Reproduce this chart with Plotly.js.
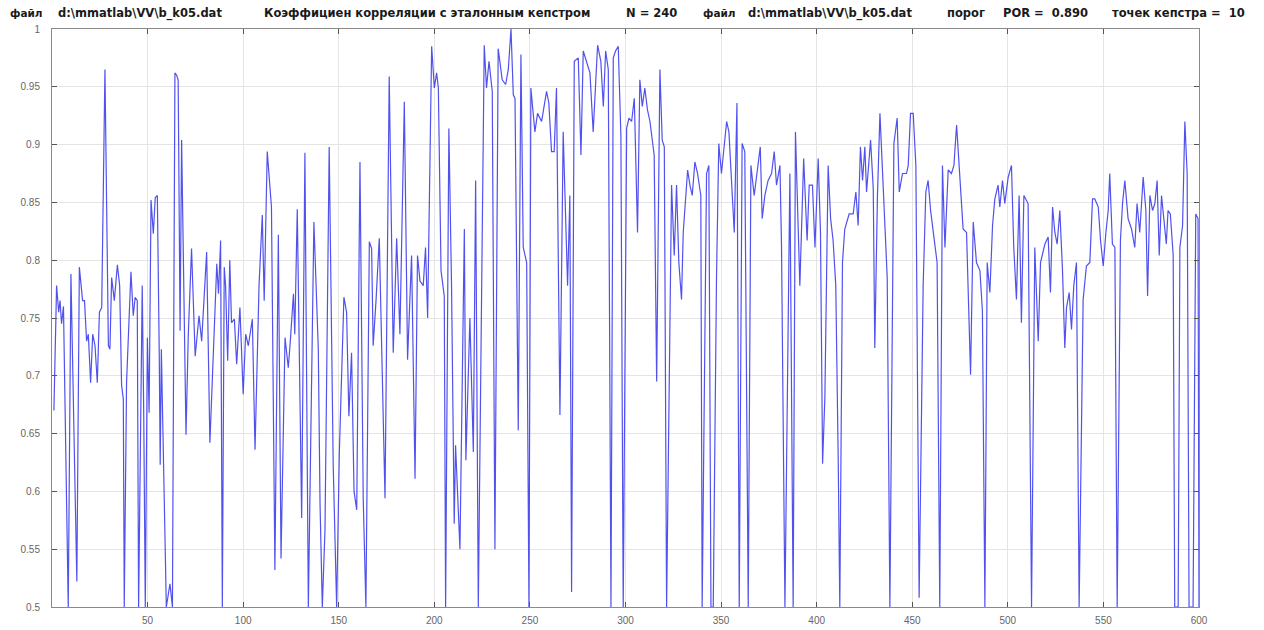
<!DOCTYPE html>
<html>
<head>
<meta charset="utf-8">
<script src="https://cdn.plot.ly/plotly-3.0.1.min.js"></script>
<style>
  html, body { margin: 0; padding: 0; background: #ffffff; }
  #chart { width: 1264px; height: 630px; }
</style>
</head>
<body>
<div id="chart"></div>
<script>
// Sample index of each correlation value
const sampleIndex = [
  1, 2.4, 3.5, 4.2, 5, 6, 8.5, 9.9, 13, 14.3, 16, 17, 18.1, 19, 20.2, 21.3, 22.5, 23.7, 24.8, 26,
  27.7, 29.5, 30.3, 31.2, 31.9, 32.6, 34.2, 35.4, 36.4, 37.3, 37.8, 39, 41.3, 42.5, 43.5, 44.6, 45.3, 47.2, 48, 48.8,
  49.9, 50.8, 51.8, 53, 54, 55.1, 56.1, 56.6, 57.2, 59.4, 59.8, 61.7, 63, 64.3, 65.2, 66, 67, 67.8, 70.1, 71.3,
  73, 74.9, 76.9, 78.3, 80.9, 82.6, 85.3, 86.2, 87.1, 88.2, 89.1, 90.1, 90.8, 91.9, 93, 93.9, 95.4, 96.6, 98.3, 100,
  101.3, 102.7, 104.8, 106.2, 108.3, 110, 111, 112.6, 114.8, 116.6, 118.4, 119.8, 121.9, 123.6, 124.5, 126.3, 127, 128.3, 130.6, 132.3,
  134.1, 137, 139.3, 140.2, 141.4, 142.8, 145, 146.3, 147.1, 148.9, 150.3, 152.7, 154.1, 155.3, 156.7, 158, 159.4, 161.1, 162.8, 164.2,
  166, 167.2, 168, 169.5, 171.2, 174.2, 176.4, 178.5, 180.3, 182, 184.3, 186, 188.1, 189.9, 191.2, 192.5, 194.2, 195.4, 196.5, 198.6,
  200, 201.2, 202.1, 203.5, 205.2, 205.9, 207.6, 209, 210.4, 211.1, 213.4, 215.7, 216.5, 218.6, 220.4, 221.6, 223, 226.1, 227.3, 228.6,
  230.3, 231.7, 233.4, 235.5, 237.3, 238.7, 240.1, 241.3, 242.2, 243.9, 245.3, 246.5, 248.3, 249.5, 250.5, 252.6, 254, 256.1, 258.7, 259.9,
  261.3, 262.7, 263.9, 265.7, 267.4, 269.7, 270.9, 271.8, 273.2, 275.3, 276.7, 277.9, 279.6, 281.4, 283.1, 285.4, 287.1, 288.4, 289.6, 291,
  292.4, 293.6, 294.8, 296.2, 297.6, 298.8, 300.6, 301.8, 303.2, 304.6, 306.3, 307.5, 308.8, 310.1, 311.5, 312.8, 314, 315, 316.3, 318,
  319.2, 320.3, 321.5, 324.1, 325.5, 326.7, 327.9, 329.3, 330.2, 331.1, 332.5, 333.7, 334.9, 336.3, 337.7, 339.4, 340.1, 342.4, 343.6, 344.7,
  345.9, 347.6, 348.8, 350.2, 352.9, 354.1, 355.5, 356.9, 358.3, 359.5, 361, 362.4, 364.2, 365.6, 367.3, 369.1, 370.5, 371.5, 372.9, 374.6,
  376.4, 377.8, 379, 380.8, 381.6, 383.4, 386, 387.7, 388.9, 391.2, 393.2, 395, 396.1, 397.8, 399.1, 400.8, 402, 403.1, 404.3, 406,
  407.3, 408.6, 410, 411.3, 412.1, 413.5, 414.7, 417, 419.1, 420.5, 421.7, 422.9, 424, 425.2, 426.1, 428.2, 429.6, 430.4, 431.8, 433.1,
  434.4, 435.7, 436.9, 438.3, 440.4, 442.1, 443.2, 444.9, 447, 447.9, 449.1, 450.5, 451.9, 453.6, 455.7, 457.1, 458.3, 459.6, 461.3, 463,
  464.4, 465.8, 467.1, 468.8, 470.5, 471.8, 473.2, 474.5, 476.6, 478.4, 480.5, 481.9, 483.6, 485.4, 486.7, 488, 489.2, 490.6, 492, 493.2,
  494.9, 495.8, 497.2, 498.4, 500.2, 501.9, 503.1, 504.5, 505.9, 507.1, 508.4, 510.6, 512.4, 514.1, 515.9, 517.1, 519.4, 521.1, 522.3, 523.4,
  524.6, 525.8, 527.2, 528.6, 529.8, 530.7, 532.1, 533.3, 534.5, 535.9, 537.3, 539.4, 541.1, 542.9, 544.3, 545.5, 547.3, 548.5, 549.9, 551.3,
  552.5, 553.3, 554.7, 556, 557.2, 558.9, 560, 561.2, 562.9, 564.7, 566.4, 567.6, 569, 570.8, 572.2, 573.1, 574.3, 575.7, 576.9, 578.1,
  579.2, 580.4, 581.6, 582.9, 583.8, 585, 586.5, 587.3, 589.1, 590, 591.4, 592.6, 593.8, 594.8, 596.9, 598.3, 599.5, 600
];

// Correlation coefficient with the reference cepstrum
const correlation = [
  0.67, 0.778, 0.755, 0.765, 0.745, 0.76, 0.5, 0.788, 0.522, 0.794, 0.765, 0.765, 0.73, 0.736, 0.694, 0.736, 0.726, 0.694, 0.755, 0.759,
  0.965, 0.726, 0.723, 0.785, 0.775, 0.765, 0.796, 0.778, 0.692, 0.68, 0.5, 0.694, 0.79, 0.752, 0.768, 0.765, 0.5, 0.778, 0.665, 0.5,
  0.733, 0.668, 0.852, 0.823, 0.854, 0.856, 0.72, 0.623, 0.723, 0.516, 0.5, 0.52, 0.5, 0.962, 0.96, 0.956, 0.739, 0.904, 0.649, 0.736,
  0.81, 0.717, 0.752, 0.73, 0.807, 0.642, 0.768, 0.797, 0.771, 0.817, 0.5, 0.794, 0.778, 0.713, 0.8, 0.746, 0.749, 0.71, 0.759, 0.684,
  0.736, 0.726, 0.749, 0.636, 0.778, 0.839, 0.765, 0.894, 0.846, 0.532, 0.822, 0.542, 0.733, 0.707, 0.726, 0.771, 0.736, 0.844, 0.577, 0.893,
  0.5, 0.833, 0.723, 0.59, 0.5, 0.567, 0.898, 0.73, 0.623, 0.5, 0.633, 0.768, 0.755, 0.665, 0.72, 0.6, 0.584, 0.885, 0.594, 0.5,
  0.816, 0.81, 0.726, 0.765, 0.819, 0.594, 0.959, 0.72, 0.819, 0.736, 0.937, 0.714, 0.804, 0.611, 0.804, 0.782, 0.778, 0.811, 0.75, 0.985,
  0.949, 0.962, 0.949, 0.791, 0.769, 0.5, 0.914, 0.778, 0.572, 0.64, 0.55, 0.827, 0.627, 0.75, 0.634, 0.869, 0.5, 0.986, 0.949, 0.972,
  0.946, 0.55, 0.983, 0.956, 0.952, 0.965, 1.0, 0.943, 0.94, 0.653, 0.978, 0.811, 0.798, 0.5, 0.949, 0.911, 0.927, 0.92, 0.946, 0.936,
  0.894, 0.894, 0.949, 0.666, 0.911, 0.778, 0.856, 0.513, 0.972, 0.975, 0.891, 0.981, 0.972, 0.962, 0.911, 0.986, 0.972, 0.933, 0.981, 0.965,
  0.5, 0.975, 0.981, 0.985, 0.907, 0.5, 0.914, 0.923, 0.92, 0.94, 0.824, 0.956, 0.933, 0.949, 0.93, 0.92, 0.904, 0.891, 0.695, 0.965,
  0.904, 0.898, 0.5, 0.865, 0.804, 0.865, 0.798, 0.766, 0.824, 0.843, 0.878, 0.865, 0.856, 0.885, 0.875, 0.856, 0.5, 0.875, 0.882, 0.5,
  0.5, 0.785, 0.901, 0.875, 0.92, 0.911, 0.862, 0.824, 0.936, 0.5, 0.901, 0.894, 0.5, 0.882, 0.856, 0.878, 0.898, 0.836, 0.856, 0.869,
  0.875, 0.894, 0.865, 0.882, 0.814, 0.5, 0.875, 0.5, 0.911, 0.778, 0.888, 0.817, 0.865, 0.865, 0.811, 0.888, 0.824, 0.624, 0.682, 0.882,
  0.836, 0.817, 0.778, 0.624, 0.5, 0.798, 0.827, 0.84, 0.84, 0.859, 0.83, 0.898, 0.869, 0.898, 0.859, 0.904, 0.862, 0.724, 0.856, 0.927,
  0.875, 0.827, 0.785, 0.5, 0.901, 0.923, 0.859, 0.875, 0.875, 0.882, 0.927, 0.927, 0.882, 0.508, 0.778, 0.859, 0.869, 0.843, 0.82, 0.798,
  0.5, 0.882, 0.811, 0.878, 0.875, 0.882, 0.917, 0.882, 0.827, 0.824, 0.701, 0.833, 0.798, 0.791, 0.756, 0.5, 0.798, 0.772, 0.83, 0.853,
  0.865, 0.846, 0.869, 0.849, 0.872, 0.882, 0.811, 0.766, 0.856, 0.746, 0.856, 0.849, 0.5, 0.811, 0.73, 0.798, 0.814, 0.82, 0.772, 0.846,
  0.824, 0.814, 0.843, 0.791, 0.724, 0.759, 0.772, 0.74, 0.778, 0.798, 0.5, 0.766, 0.795, 0.798, 0.853, 0.853, 0.846, 0.817, 0.795, 0.824,
  0.843, 0.875, 0.814, 0.811, 0.5, 0.817, 0.849, 0.869, 0.836, 0.827, 0.811, 0.849, 0.824, 0.872, 0.843, 0.769, 0.856, 0.843, 0.849, 0.869,
  0.804, 0.856, 0.836, 0.814, 0.843, 0.84, 0.804, 0.5, 0.5, 0.811, 0.83, 0.92, 0.875, 0.5, 0.5, 0.84, 0.836, 0.5
];

// Tick positions and labels
const xTicks = [50, 100, 150, 200, 250, 300, 350, 400, 450, 500, 550, 600];
const yTicks = [0.5, 0.55, 0.6, 0.65, 0.7, 0.75, 0.8, 0.85, 0.9, 0.95, 1];
const yTickText = ['0.5', '0.55', '0.6', '0.65', '0.7', '0.75', '0.8', '0.85', '0.9', '0.95', '1'];

// Header line pieces, their left pixel positions and font sizes
const headerParts = [
  'файл',
  'd:\\mmatlab\\VV\\b_k05.dat',
  'Коэффициен корреляции с эталонным кепстром',
  'N = 240',
  'файл',
  'd:\\mmatlab\\VV\\b_k05.dat',
  'порог',
  'POR =  0.890',
  'точек кепстра =  10'
];
const headerLeftPx = [8, 56, 262, 624, 701, 746, 945, 1001, 1110];
const headerSize = [10.5, 11.5, 11.5, 11.5, 10.5, 11.5, 11.5, 11.5, 11.5];

const W = 1264, H = 630;
const M = { l: 52, r: 65, t: 29, b: 23 };
const plotW = W - M.l - M.r;
const plotH = H - M.t - M.b;

const annotations = headerParts.map((txt, i) => ({
  text: txt.replace(/  /g, ' &nbsp;'),
  xref: 'paper', yref: 'paper',
  x: (headerLeftPx[i] - M.l) / plotW,
  y: 1 + (M.t - 13) / plotH,
  xanchor: 'left', yanchor: 'middle',
  showarrow: false,
  font: {
    family: 'DejaVu Sans, Verdana, sans-serif',
    size: headerSize[i],
    color: '#1a1a1a',
    weight: 'bold'
  }
}));

const axisCommon = {
  showline: true,
  linecolor: '#8a8a8a',
  linewidth: 1,
  mirror: 'ticks',
  ticks: 'inside',
  ticklen: 5,
  tickwidth: 1,
  tickcolor: '#555555',
  showgrid: true,
  gridcolor: '#e4e4e4',
  gridwidth: 1,
  zeroline: false,
  tickfont: { family: 'Liberation Sans, Arial, sans-serif', size: 10, color: '#666666' }
};

const trace = {
  x: sampleIndex,
  y: correlation,
  type: 'scatter',
  mode: 'lines',
  line: { color: 'rgba(50,50,235,0.85)', width: 1.2 },
  hoverinfo: 'x+y'
};

const layout = {
  width: W,
  height: H,
  margin: M,
  paper_bgcolor: '#ffffff',
  plot_bgcolor: '#ffffff',
  showlegend: false,
  xaxis: Object.assign({}, axisCommon, {
    range: [0, 600],
    tickmode: 'array',
    tickvals: xTicks,
    ticklabelstandoff: 4
  }),
  yaxis: Object.assign({}, axisCommon, {
    range: [0.5, 1],
    tickmode: 'array',
    tickvals: yTicks,
    ticktext: yTickText,
    ticklabelstandoff: 9
  }),
  annotations: annotations
};

Plotly.newPlot('chart', [trace], layout, { staticPlot: true, displayModeBar: false });
</script>
</body>
</html>
